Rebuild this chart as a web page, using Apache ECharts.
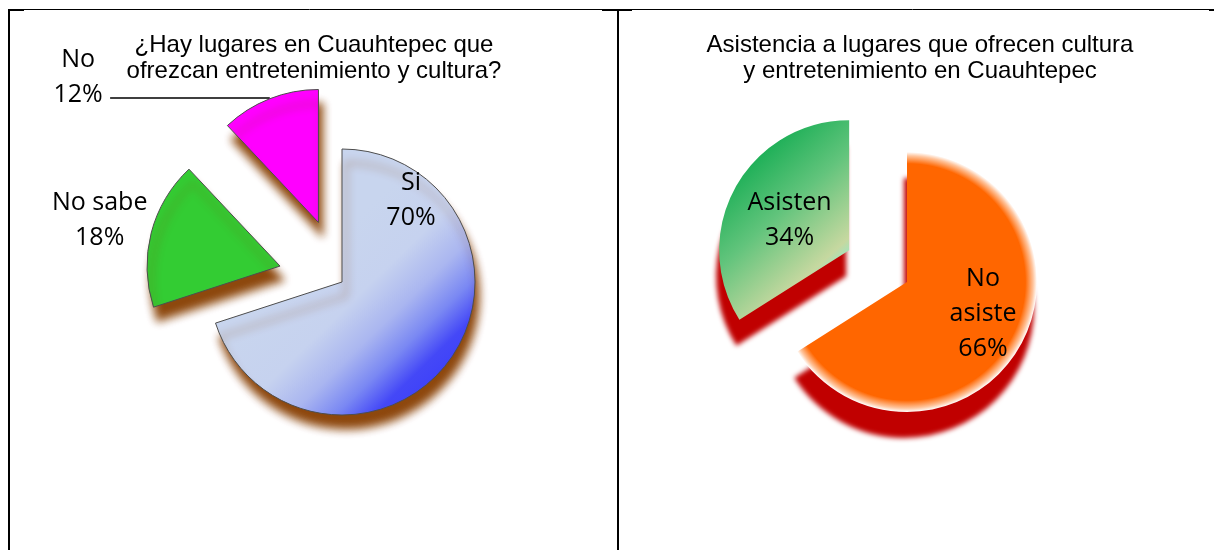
<!DOCTYPE html>
<html>
<head>
<meta charset="utf-8">
<script src="https://cdn.jsdelivr.net/npm/echarts@6/dist/echarts.min.js"></script>
<style>
  html, body { margin: 0; padding: 0; background: #fff; }
  #chart { width: 1214px; height: 550px; }
</style>
</head>
<body>
<div id="chart"></div>
<script>
  // left chart data
  const leftTitle = '¿Hay lugares en Cuauhtepec que\nofrezcan entretenimiento y cultura?';
  const leftNames = ['Si', 'No sabe', 'No'];
  const leftValues = [70, 18, 12];
  const leftExploded = [false, true, true];

  // right chart data
  const rightTitle = 'Asistencia a lugares que ofrecen cultura\ny entretenimiento en Cuauhtepec';
  const rightNames = ['No\nasiste', 'Asisten'];
  const rightValues = [66, 34];
  const rightExploded = [false, true];

  const labelFont = { fontFamily: 'Open Sans', fontSize: 25, lineHeight: 35, color: '#000' };
  const titleFont = { fontFamily: 'Liberation Sans', fontSize: 24, lineHeight: 26, fontWeight: 'normal', color: '#000' };

  const leftColors = [
    {
      type: 'linear', x: 0.4, y: 0.4, x2: 1, y2: 1,
      colorStops: [
        { offset: 0, color: '#c8d5ee' },
        { offset: 0.25, color: '#c6d2ef' },
        { offset: 0.42, color: '#aab6f0' },
        { offset: 0.56, color: '#7a88f3' },
        { offset: 0.68, color: '#4448f7' },
        { offset: 1, color: '#3030ff' },
      ],
    },
    '#33cc33',
    '#ff00ff',
  ];
  const rightColors = [
    {
      type: 'radial', x: 907, y: 282, r: 130, global: true,
      colorStops: [
        { offset: 0, color: '#ff6600' },
        { offset: 0.91, color: '#ff6600' },
        { offset: 0.97, color: '#ffc49c' },
        { offset: 1, color: '#ffffff' },
      ],
    },
    {
      type: 'linear', x: 0.1, y: 0.15, x2: 1, y2: 0.8,
      colorStops: [
        { offset: 0, color: '#05a84a' },
        { offset: 0.45, color: '#62c47c' },
        { offset: 0.82, color: '#c6d8a0' },
        { offset: 1, color: '#66f8f0' },
      ],
    },
  ];

  // text centres for labels of slices that are not pulled out
  const leftLabelAt = [[411, 200], null, null];
  const rightLabelAt = [[983, 314], null];

  function buildData(names, values, exploded, colors) {
    return names.map((n, i) => ({
      name: n,
      value: values[i],
      selected: exploded[i],
      itemStyle: { color: colors[i] },
    }));
  }

  // every label line becomes a rich token so padding can move the text
  const pctLabel = (p) => (p.name + '\n' + p.value + '%').split('\n').map((s) => '{c|' + s + '}').join('\n');
  const baseLabel = {
    show: true,
    position: 'inside',
    formatter: pctLabel,
    ...labelFont,
    rich: { c: { ...labelFont, align: 'center' } },
  };

  const leftData = buildData(leftNames, leftValues, leftExploded, leftColors);
  // "No sabe": shift the text out to the left of its slice
  leftData[1].label = { padding: [0, 226, 56, 0] };
  // "No": outside label with a leader line
  leftData[2].label = {
    position: 'outside',
    padding: [0, 0, 41, 0],
    rich: { c: { ...labelFont, width: 54, align: 'center' } },
  };
  leftData[2].labelLine = { show: true, length: 1, length2: 159, lineStyle: { color: '#000', width: 1.5 } };

  const rightData = buildData(rightNames, rightValues, rightExploded, rightColors);
  rightData[1].label = { padding: [6, 0, 0, 0] };

  const myChart = echarts.init(document.getElementById('chart'));

  const option = {
    animation: false,
    title: [
      { text: leftTitle, left: 314, top: 32, textAlign: 'center', padding: 0, textStyle: titleFont },
      { text: rightTitle, left: 920, top: 32, textAlign: 'center', padding: 0, textStyle: titleFont },
    ],
    graphic: [
      { type: 'line', shape: { x1: 8, y1: 9.5, x2: 1214, y2: 9.5 }, style: { stroke: '#000', lineWidth: 1 } },
      { type: 'rect', shape: { x: 8, y: 9, width: 16, height: 2 }, style: { fill: '#000' } },
      { type: 'rect', shape: { x: 602, y: 9, width: 30, height: 2 }, style: { fill: '#000' } },
      { type: 'rect', shape: { x: 1209, y: 9, width: 5, height: 2 }, style: { fill: '#000' } },
      { type: 'rect', shape: { x: 8, y: 9, width: 2, height: 541 }, style: { fill: '#000' } },
      { type: 'rect', shape: { x: 617, y: 9, width: 2, height: 541 }, style: { fill: '#000' } },
    ],
    series: [
      {
        type: 'pie',
        center: [342, 282],
        radius: 133,
        startAngle: 90,
        clockwise: true,
        selectedMode: 'multiple',
        selectedOffset: 64,
        avoidLabelOverlap: false,
        silent: true,
        itemStyle: {
          borderColor: '#4d4d4d',
          borderWidth: 1,
          shadowColor: 'rgba(135, 62, 0, 0.95)',
          shadowBlur: 8,
          shadowOffsetX: 4,
          shadowOffsetY: 14,
        },
        label: baseLabel,
        labelLine: { show: false },
        labelLayout: function (params) {
          const at = leftLabelAt[params.dataIndex];
          if (!at) return;
          return { x: at[0], y: at[1], align: 'center', verticalAlign: 'middle' };
        },
        data: leftData,
      },
      {
        type: 'pie',
        center: [907, 282],
        radius: 130,
        startAngle: 90,
        clockwise: true,
        selectedMode: 'multiple',
        selectedOffset: 66,
        avoidLabelOverlap: false,
        silent: true,
        itemStyle: {
          borderWidth: 0,
          shadowColor: '#c00000',
          shadowBlur: 5,
          shadowOffsetX: -3,
          shadowOffsetY: 26,
        },
        label: baseLabel,
        labelLine: { show: false },
        labelLayout: function (params) {
          const at = rightLabelAt[params.dataIndex];
          if (!at) return;
          return { x: at[0], y: at[1], align: 'center', verticalAlign: 'middle' };
        },
        data: rightData,
      },
    ],
  };

  myChart.setOption(option);
</script>
</body>
</html>
